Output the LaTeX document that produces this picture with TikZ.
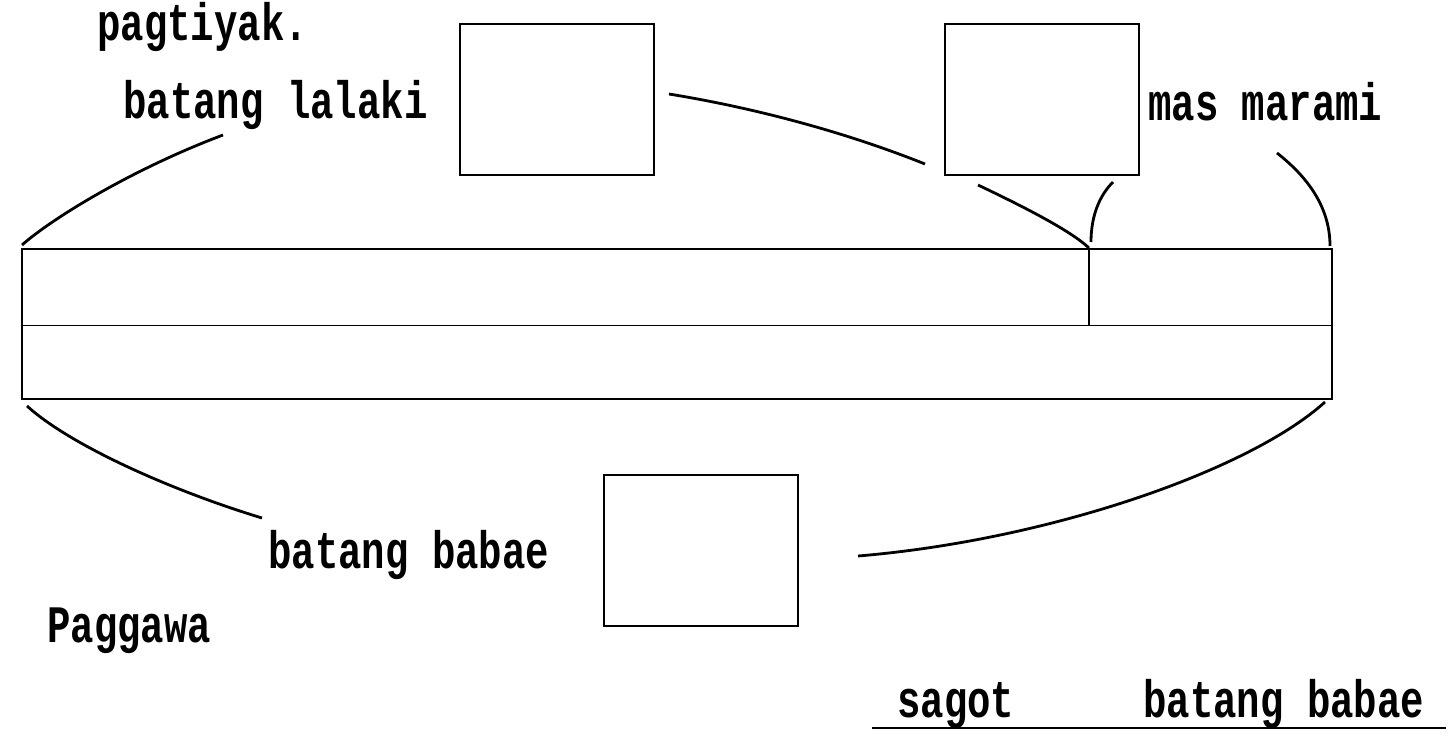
\documentclass[tikz,border=0pt]{standalone}
\usepackage{fontspec}
\newfontfamily\lblfont{Liberation Mono}
\newcommand\tallt[1]{\scalebox{1}[1.35]{#1}}
\begin{document}
\begin{tikzpicture}[x=1pt,y=-1pt,
  boxn/.style={draw, line width=2pt, minimum width=194pt, minimum height=151pt, inner sep=0pt, anchor=north west},
  barn/.style={draw, line width=1.8pt, minimum width=1310pt, inner sep=0pt, anchor=north west},
  lbl/.style={anchor=base west, inner sep=0pt, font=\lblfont\bfseries\fontsize{39}{47}\selectfont},
  curve/.style={line width=2.8pt}]
\useasboundingbox (0,0) rectangle (1448,740);
% boxes
\node[boxn] (b1) at (459,23) {};
\node[boxn] (b2) at (944,23) {};
\node[boxn] (b3) at (603,474) {};
% bar
\node[barn, minimum height=76.5pt] (bartop) at (21,248) {};
\node[barn, minimum height=73.5pt] (barbot) at (21,324.5) {};
\coordinate (dtop) at (1089,248);
\coordinate (dbot) at (1089,324.5);
\draw[line width=2.8pt] (dtop) -- (dbot);
% labels
\node[lbl] (t1) at (97,40) {\tallt{pagtiyak.}};
\node[lbl] (t2) at (123,118) {\tallt{batang lalaki}};
\node[lbl] (t3) at (1148,120) {\tallt{mas marami}};
\node[lbl] (t4) at (268,568) {\tallt{batang babae}};
\node[lbl] (t5) at (47,642) {\tallt{Paggawa}};
\node[lbl] (t6) at (897,717) {\tallt{sagot}};
\node[lbl] (t7) at (1143,717) {\tallt{batang babae}};
% underline
\coordinate (u1) at (872,728);
\coordinate (u2) at (1446,728);
\draw[line width=2pt] (u1) -- (u2);
% curve end points
\coordinate (c1a) at (22,245);   \coordinate (c1b) at (223,135);
\coordinate (c2a) at (669,94);   \coordinate (c2b) at (925,164);
\coordinate (c3a) at (978,185);
\coordinate (c4b) at (1113,182);
\coordinate (c5a) at (1277,153); \coordinate (c5b) at (1330,246);
\coordinate (c6a) at (27,406);   \coordinate (c6b) at (262,518);
\coordinate (c7a) at (858,556);  \coordinate (c7b) at (1325,402);
% curves
\draw[curve] (c1a) .. controls (50,220) and (130,170) .. (c1b);
\draw[curve] (c2a) .. controls (755,108) and (845,132) .. (c2b);
\draw[curve] (c3a) .. controls (1020,205) and (1070,230) .. (dtop);
\draw[curve] (1091,242) .. controls (1091,215) and (1100,195) .. (c4b);
\draw[curve] (c5a) .. controls (1305,175) and (1330,205) .. (c5b);
\draw[curve] (c6a) .. controls (70,445) and (170,490) .. (c6b);
\draw[curve] (c7a) .. controls (1050,540) and (1250,470) .. (c7b);
\end{tikzpicture}
\end{document}
